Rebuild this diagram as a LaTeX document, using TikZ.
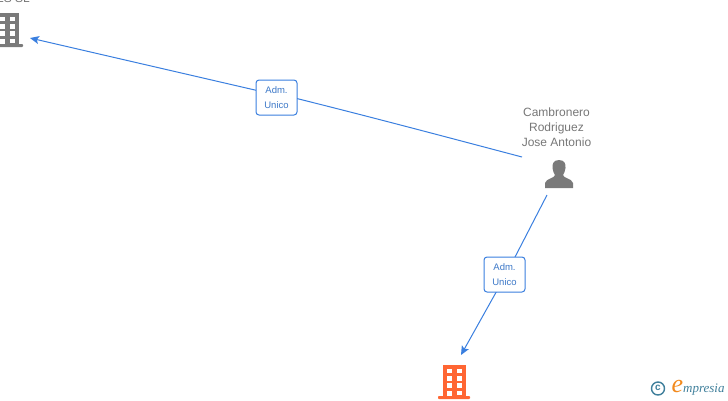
\documentclass[tikz,border=0pt]{standalone}
\usepackage{fontspec}
\setmainfont{Liberation Sans}
\newfontfamily\logofont{Liberation Serif}
\usetikzlibrary{arrows.meta,backgrounds,calc}
\definecolor{linkblue}{HTML}{3A7FDF}
\definecolor{labelblue}{HTML}{3C78C8}
\definecolor{icongray}{HTML}{7A7A7A}
\definecolor{nametext}{HTML}{777777}
\definecolor{iconorange}{HTML}{FF6633}
\definecolor{logoteal}{HTML}{3F7F9B}
\definecolor{logoorange}{HTML}{F28A1E}
\tikzset{
  linkline/.style={draw=linkblue,line width=1pt},
  linkarrow/.style={linkline,-{Stealth[length=9pt,width=8pt,inset=2pt]}},
  reltag/.style={draw=linkblue,fill=white,rounded corners=3pt,line width=1pt,
    minimum width=41pt,minimum height=35pt,inner sep=0pt,align=center,
    text=labelblue,font=\fontsize{9.5}{15}\selectfont},
  personname/.style={text=nametext,align=center,inner sep=0pt,font=\fontsize{12}{15}\selectfont}
}
\newcommand{\buildingicon}[3]{%
  \begin{scope}[shift={(#1,#2)}]
    \fill[#3] (-4,0) rectangle (19,31);
    \fill[#3,rounded corners=0.8pt] (-9,31) rectangle (23,34);
    \foreach \yy in {3.5,11,18}{
      \fill[white] (0,\yy) rectangle (5,\yy+4.5);
      \fill[white] (10,\yy) rectangle (15,\yy+4.5);
    }
    \fill[white] (0,25.5) rectangle (5,31);
    \fill[white] (10,25.5) rectangle (15,29.5);
  \end{scope}}
\begin{document}
\begin{tikzpicture}[x=1pt,y=-1pt]
\useasboundingbox (0,0) rectangle (728,400);
\clip (0,0) rectangle (728,400);
% company icons
\buildingicon{0}{13}{icongray}
\buildingicon{447}{365}{iconorange}
\node[anchor=east,text=nametext,inner sep=0pt,font=\fontsize{12}{15}\selectfont] (topname) at (30,-1.5) {ES SL};
% person
\fill[icongray] (559,160) .. controls (564.5,160) and (566,164) .. (565.5,168)
  .. controls (565.2,171) and (564,173.5) .. (563,175)
  .. controls (563,178) and (572,178.5) .. (573,183)
  -- (573,188) -- (545,188) -- (545,183)
  .. controls (546,178.5) and (555,178) .. (555,175)
  .. controls (554,173.5) and (552.8,171) .. (552.5,168)
  .. controls (552,164) and (553.5,160) .. (559,160) -- cycle;
\node[personname] (person) at (556.5,127) {Cambronero\\Rodriguez\\Jose Antonio};
% connector ends
\coordinate (topstart) at (522,157);
\coordinate (topend) at (30,38);
\coordinate (lowstart) at (547,195);
\coordinate (lowend) at (461,355);
% relation tags
\node[reltag] (tagtop) at (276.5,97.5) {Adm.\\Unico};
\node[reltag] (taglow) at (504.5,274.5) {Adm.\\Unico};
\begin{pgfonlayer}{background}
\draw[linkline] (topstart) .. controls (450,138) and (360,114) .. ($(tagtop.center)+(0,-4)$);
\draw[linkarrow] ($(tagtop.center)+(0,-2.5)$) -- (topend);
\draw[linkline] (lowstart) -- ($(taglow.center)+(1.5,0)$);
\draw[linkarrow] ($(taglow.center)+(1.5,0)$) -- (lowend);
\end{pgfonlayer}
% logo
\draw[logoteal,line width=1.4pt] (658,388.5) circle (6.5);
\node[text=logoteal,inner sep=0pt,font=\bfseries\fontsize{10}{10}\selectfont] (copyr) at (658,388) {c};
\node[text=logoorange,inner sep=0pt,font=\logofont\itshape\fontsize{26}{26}\selectfont] (logoe) at (677.5,386) {e};
\node[text=logoteal,anchor=west,inner sep=0pt,font=\logofont\itshape\fontsize{13}{13}\selectfont] (logotext) at (683,389.5) {mpresia};
\end{tikzpicture}
\end{document}
